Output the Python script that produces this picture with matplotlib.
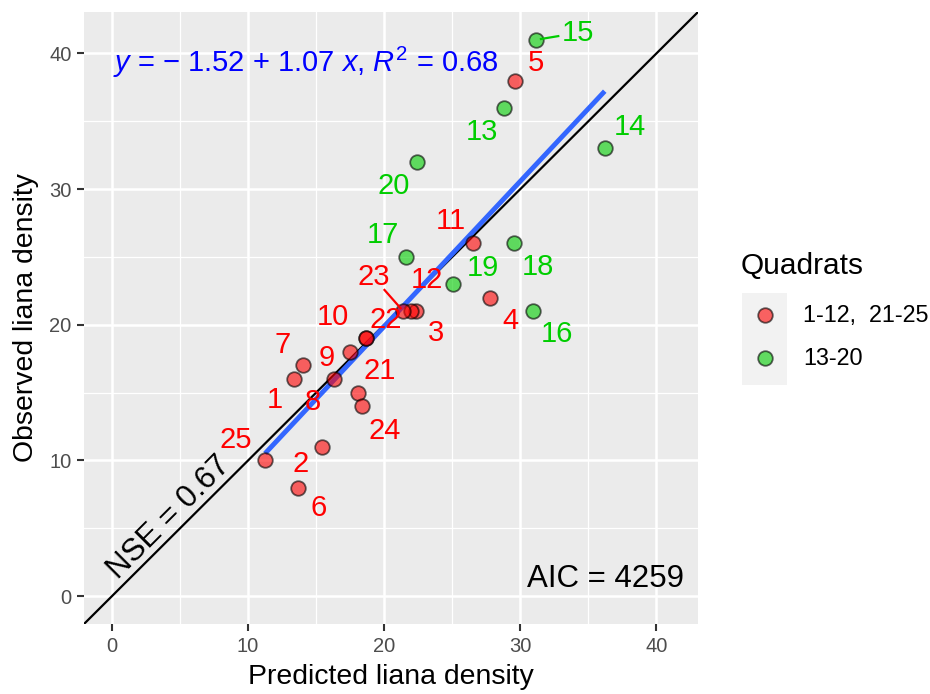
import matplotlib
matplotlib.use("Agg")
import matplotlib.pyplot as plt
from matplotlib.patches import Rectangle
import numpy as np

plt.rcParams['font.family'] = ['Liberation Sans', 'DejaVu Sans']
plt.rcParams['mathtext.fontset'] = 'custom'
plt.rcParams['mathtext.rm'] = 'Liberation Sans'
plt.rcParams['mathtext.it'] = 'Liberation Sans:italic'

# ---- data ----
quadrat = [1, 2, 3, 4, 5, 6, 7, 8, 9, 10, 11, 12, 13, 14, 15, 16, 17, 18, 19, 20, 21, 22, 23, 24, 25]
predicted = [13.4, 15.45, 22.3, 27.8, 29.6, 13.7, 14.0, 16.3, 17.5, 18.65, 26.5, 21.95,
             28.8, 36.2, 31.15, 30.9, 21.6, 29.5, 25.05, 22.4,
             18.05, 18.7, 21.4, 18.35, 11.25]
observed = [16, 11, 21, 22, 38, 8, 17, 16, 18, 19, 26, 21,
            36, 33, 41, 21, 25, 26, 23, 32,
            15, 19, 21, 14, 10]
group_labels = ["1-12,  21-25", "13-20"]
fit_coef = [-1.52, 1.07]   # intercept, slope
r2 = 0.68
nse = 0.67
aic = 4259
x_ticks = [0, 10, 20, 30, 40]
y_ticks = [0, 10, 20, 30, 40]

# ---- layout (label offsets in pixels, y up) ----
label_offsets = {1: (-20, -21), 2: (-22, -17), 3: (20, -22), 4: (20, -23), 5: (21, 18),
                 6: (20, -20), 7: (-20, 20), 8: (-21, -23), 9: (-23, -6), 10: (-33, 21),
                 11: (-22, 22), 12: (16, 31), 13: (-22, -24), 14: (25, 21), 15: (42, 7),
                 16: (24, -23), 17: (-23, 22), 18: (24, -24), 19: (30, 16), 20: (-23, -24),
                 21: (22, 22), 22: (19, 18), 23: (-30, 34), 24: (23, -25), 25: (-29, 20)}
segments = {15: (5, 20), 23: (4, 17)}

red_fill = (1.0, 0.0, 0.0)
green_fill = (0.0, 205/255, 0.0)
red_txt = '#FF0000'
green_txt = '#00CD00'

W, H = 930, 694
fig = plt.figure(figsize=(W/100, H/100), dpi=100)
L, R, T, B = 84, 698, 12, 624
ax = fig.add_axes([L/W, 1 - B/H, (R-L)/W, (B-T)/H])
ax.set_facecolor('#EBEBEB')
lim = (-2.05, 43.05)
ax.set_xlim(lim)
ax.set_ylim(lim)

for v in [5, 15, 25, 35]:
    ax.axvline(v, color='white', lw=0.9, zorder=0.5)
    ax.axhline(v, color='white', lw=0.9, zorder=0.5)
for v in x_ticks:
    ax.axvline(v, color='white', lw=1.8, zorder=0.6)
for v in y_ticks:
    ax.axhline(v, color='white', lw=1.8, zorder=0.6)
for s in ax.spines.values():
    s.set_visible(False)

ax.set_xticks(x_ticks)
ax.set_yticks(y_ticks)
ax.tick_params(axis='both', colors='#333333', length=5, width=1.5, labelsize=14.5,
               labelcolor='#4D4D4D', pad=4)

# 1:1 line
ax.plot(lim, lim, color='black', lw=1.6, zorder=2)

# regression line
pred = np.array(predicted)
xs = np.array([pred.min(), pred.max()])
ax.plot(xs, fit_coef[0] + fit_coef[1] * xs, color='#3366FF', lw=3.5, zorder=2.5,
        solid_capstyle='butt')

is_green = [13 <= q <= 20 for q in quadrat]
for g, fillc in [(False, red_fill), (True, green_fill)]:
    idx = [i for i in range(len(quadrat)) if is_green[i] == g]
    ax.scatter([predicted[i] for i in idx], [observed[i] for i in idx], s=110,
               facecolor=(*fillc, 0.6), edgecolor=(0, 0, 0, 0.6), linewidth=1.3, zorder=3)

inv = ax.transData.inverted()
for i, q in enumerate(quadrat):
    dx, dy = label_offsets[q]
    col = green_txt if is_green[i] else red_txt
    ax.annotate(str(q), (predicted[i], observed[i]), xytext=(dx, dy),
                textcoords='offset pixels', ha='center', va='center',
                fontsize=21, color=col, zorder=4)
    if q in segments:
        a, b = segments[q]
        p = ax.transData.transform((predicted[i], observed[i]))
        v = np.array([dx, dy], float)
        n = v / np.linalg.norm(v)
        s0 = inv.transform(p + n * a)
        e0 = inv.transform(p + v - n * b)
        ax.plot([s0[0], e0[0]], [s0[1], e0[1]], color=col, lw=1.6, zorder=3.5)

eq = (r'$y$ = − ' + f'{abs(fit_coef[0]):.2f}' + ' + ' + f'{fit_coef[1]:.2f}' +
      r' $x$, $R^2$ = ' + f'{r2:.2f}')
ax.text(0.1, 39.3, eq, color='#0000FF', fontsize=21, ha='left', va='center', zorder=5)

ax.text(4.2, 5.8, f'NSE = {nse:.2f}', rotation=45, rotation_mode='anchor',
        ha='center', va='center', fontsize=22.5, color='black', zorder=5)
ax.text(42.0, 1.3, f'AIC = {aic}', ha='right', va='center', fontsize=22.5, color='black', zorder=5)

ax.set_xlabel('Predicted liana density', fontsize=20.4, labelpad=6)
ax.set_ylabel('Observed liana density', fontsize=20.4, labelpad=7)

# legend (drawn manually, ggplot style)
lax = fig.add_axes([0, 0, 1, 1], facecolor='none')
lax.set_xlim(0, W)
lax.set_ylim(H, 0)
lax.axis('off')
lax.text(741, 266, 'Quadrats', fontsize=21.5, ha='left', va='center')
lax.add_patch(Rectangle((742, 293), 45, 92, facecolor='#F2F2F2', edgecolor='none'))
for k, (lbl, fillc) in enumerate(zip(group_labels, [red_fill, green_fill])):
    yk = 315 + 43 * k
    lax.scatter([764.5], [yk], s=110, facecolor=(*fillc, 0.6),
                edgecolor=(0, 0, 0, 0.6), linewidth=1.3)
    lax.text(803, yk, lbl, fontsize=16.8, ha='left', va='center')

fig.savefig('out.png', dpi=100)
